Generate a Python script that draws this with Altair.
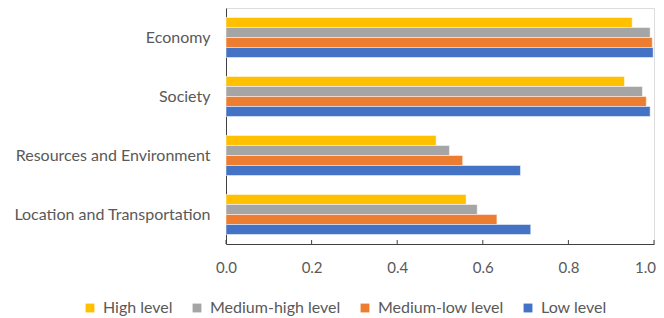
import altair as alt
import pandas as pd

categories = ["Economy", "Society", "Resources and Environment", "Location and Transportation"]
series = ["High level", "Medium-high level", "Medium-low level", "Low level"]
colors = ["#FFC000", "#A5A5A5", "#ED7D31", "#4472C4"]

high = [0.949, 0.931, 0.491, 0.561]
medium_high = [0.991, 0.973, 0.522, 0.587]
medium_low = [0.996, 0.982, 0.553, 0.633]
low = [0.998, 0.991, 0.688, 0.712]

tick_values = [0.0, 0.2, 0.4, 0.6, 0.8, 1.0]

rows = []
for s, vals in zip(series, [high, medium_high, medium_low, low]):
    for c, v in zip(categories, vals):
        rows.append({"category": c, "series": s, "value": v})
df = pd.DataFrame(rows)
ticks_df = pd.DataFrame({"t": tick_values})

W, H = 428, 236
FONT = "Lato"
TXT = "#595959"

xscale = alt.Scale(domain=[0, 1], nice=False)

bars = alt.Chart(df).mark_bar(stroke="white", strokeWidth=0.5).encode(
    y=alt.Y("category:N", sort=categories, title=None,
            scale=alt.Scale(paddingInner=0.32, paddingOuter=0.16),
            axis=alt.Axis(ticks=False, domain=True, domainColor="#404040", domainWidth=1,
                          labelPadding=16, labelFontSize=16, labelColor=TXT, labelFont=FONT,
                          labelLimit=300)),
    x=alt.X("value:Q", scale=xscale, title=None,
            axis=alt.Axis(values=tick_values, format=".1f", ticks=False, grid=False,
                          labelFlush=False,
                          labelOffset={"condition": {"test": "datum.value >= 1", "value": -9}, "value": 0},
                          domain=True, domainColor="#404040", domainWidth=1,
                          labelPadding=16, labelFontSize=15, labelColor=TXT, labelFont=FONT)),
    yOffset=alt.YOffset("series:N", sort=series, scale=alt.Scale(paddingInner=0, paddingOuter=0)),
    color=alt.Color("series:N", sort=series,
                    scale=alt.Scale(domain=series, range=colors),
                    legend=alt.Legend(title=None, orient="none", legendX=-144, legendY=292,
                                      direction="horizontal", columns=4, symbolType="square",
                                      symbolSize=78, symbolStrokeWidth=0, labelFontSize=16,
                                      labelColor=TXT, labelFont=FONT, columnPadding=16,
                                      labelOffset=5)),
)

tick_marks = alt.Chart(ticks_df).mark_rule(color="#404040", strokeWidth=1).encode(
    x=alt.X("t:Q", scale=xscale, title=None),
    y=alt.value(H - 4),
    y2=alt.value(H),
)

chart = alt.layer(bars, tick_marks).properties(
    width=W, height=H,
    autosize=alt.AutoSizeParams(type="none"),
    padding={"left": 218, "top": 0, "right": 2, "bottom": 74},
).configure_view(stroke=None).configure(background="white")

chart.save("out.html", embed_options={"renderer": "svg", "actions": False})
